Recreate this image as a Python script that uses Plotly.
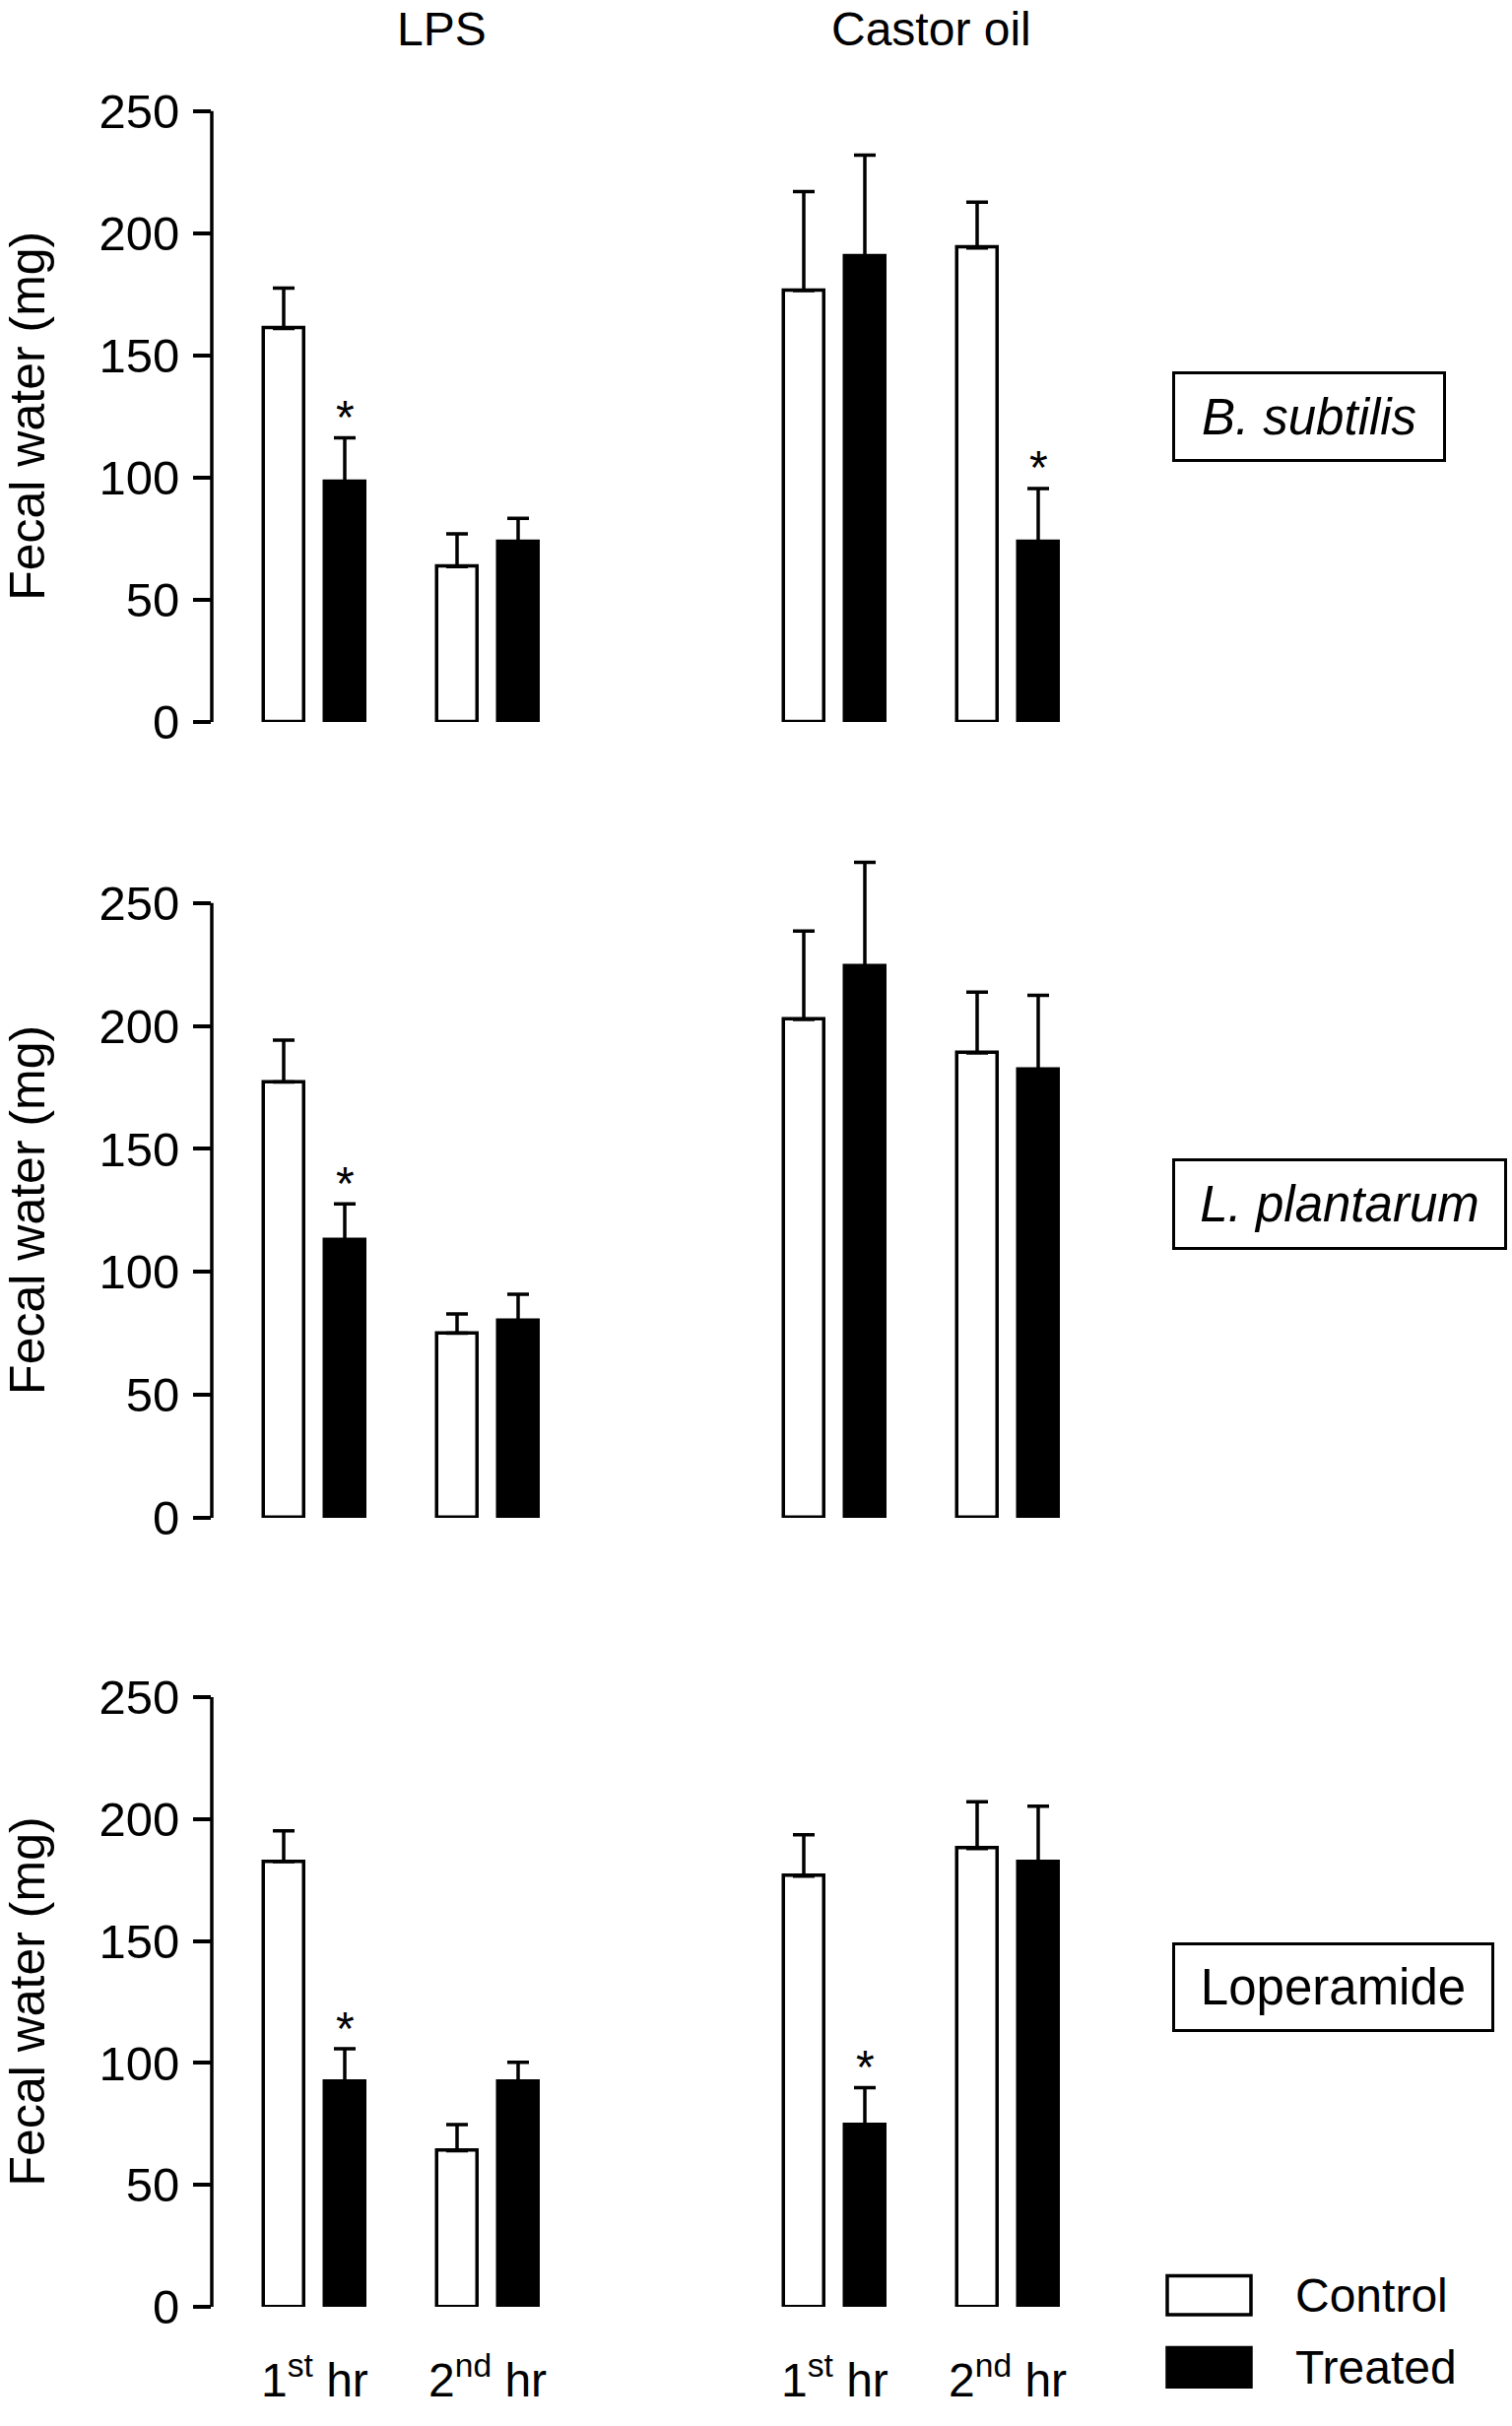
import plotly.graph_objects as go

# bar groups: LPS 1st hr, LPS 2nd hr, Castor oil 1st hr, Castor oil 2nd hr
conditions = ["LPS", "Castor oil"]
hours = ["1<sup>st</sup> hr", "2<sup>nd</sup> hr"]
panels = ["<i>B. subtilis</i>", "<i>L. plantarum</i>", "Loperamide"]

bsub_ctrl = [161.0, 63.5, 176.5, 194.0]
bsub_ctrl_sem = [16.5, 13.5, 40.5, 18.7]
bsub_trt = [98.4, 73.5, 190.4, 73.5]
bsub_trt_sem = [17.9, 9.8, 41.6, 22.0]
bsub_sig = [True, False, False, True]

lpl_ctrl = [177.2, 75.1, 202.7, 189.0]
lpl_ctrl_sem = [17.1, 7.8, 35.9, 24.8]
lpl_trt = [112.8, 80.0, 224.3, 182.2]
lpl_trt_sem = [14.9, 10.9, 42.3, 30.3]
lpl_sig = [True, False, False, False]

lop_ctrl = [182.5, 64.0, 176.6, 187.9]
lop_ctrl_sem = [12.6, 10.7, 16.9, 19.2]
lop_trt = [92.2, 92.2, 74.7, 182.5]
lop_trt_sem = [13.6, 8.1, 15.2, 22.7]
lop_sig = [True, False, True, False]

y_ticks = [0, 50, 100, 150, 200, 250]

# ---- layout geometry (pixels of the 1535x2463 reference) ----
W, H = 1535, 2463
FONT = "Liberation Sans, Arial, sans-serif"
AXIS_X = 215
# (pixel of 0, pixel of 250) per panel
panel_px = [(741, 114), (1558, 927), (2368, 1742)]
Y_TOP = 272
label_boxes = [(1190, 382, 1468, 474), (1190, 1190, 1530, 1283), (1190, 1994, 1517, 2085)]

first_bar = 288
cond_step = 528
hour_step = 176
treat_step = 62
bar_w = 41


def px_x(p):
    return p / W


def px_y(p):
    return 1 - p / H


positions = []
for c in range(len(conditions)):
    for h in range(len(hours)):
        positions.append(first_bar + c * cond_step + h * hour_step)
pos_trt = [p + treat_step for p in positions]

data = [
    (bsub_ctrl, bsub_ctrl_sem, bsub_trt, bsub_trt_sem, bsub_sig),
    (lpl_ctrl, lpl_ctrl_sem, lpl_trt, lpl_trt_sem, lpl_sig),
    (lop_ctrl, lop_ctrl_sem, lop_trt, lop_trt_sem, lop_sig),
]

fig = go.Figure()
annotations = []
shapes = []
layout_axes = {}

for i, (ctrl, ctrl_sem, trt, trt_sem, sig) in enumerate(data):
    n = "" if i == 0 else str(i + 1)
    xa, ya = "x" + n, "y" + n
    err_style = dict(type="data", symmetric=False, color="black", thickness=3.5, width=11)

    fig.add_trace(go.Bar(
        x=positions, y=ctrl, width=bar_w, xaxis=xa, yaxis=ya,
        marker=dict(color="white", line=dict(color="black", width=3.5)),
        error_y=dict(array=ctrl_sem, arrayminus=[0] * len(ctrl), **err_style),
        name="Control", showlegend=False,
    ))
    fig.add_trace(go.Bar(
        x=pos_trt, y=trt, width=bar_w, xaxis=xa, yaxis=ya,
        marker=dict(color="black", line=dict(color="black", width=3.5)),
        error_y=dict(array=trt_sem, arrayminus=[0] * len(trt), **err_style),
        name="Treated", showlegend=False,
    ))

    y0, y250 = panel_px[i]
    scale = (y0 - y250) / 250.0
    top = y0 - Y_TOP * scale
    layout_axes["xaxis" + n] = dict(domain=[px_x(AXIS_X), 1], range=[AXIS_X, W],
                                    visible=False, anchor=ya, fixedrange=True)
    layout_axes["yaxis" + n] = dict(
        domain=[px_y(y0), px_y(top)], range=[0, Y_TOP], anchor=xa,
        tickvals=y_ticks, ticks="outside", ticklen=18, tickwidth=3.5, tickcolor="black",
        ticklabelstandoff=4,
        showline=False, showgrid=False, zeroline=False,
        tickfont=dict(family=FONT, size=49, color="black"),
    )

    # y axis line only from 0 to 250
    shapes.append(dict(type="line", xref=xa + " domain", yref=ya, x0=0, x1=0, y0=0, y1=250,
                       line=dict(color="black", width=3.5)))

    # significance stars
    for p, m, s, flag in zip(pos_trt, trt, trt_sem, sig):
        if flag:
            annotations.append(dict(x=p, y=m + s, xref=xa, yref=ya, text="*", showarrow=False,
                                    yanchor="middle", yshift=21,
                                    font=dict(family=FONT, size=48, color="black")))

    # y axis title
    annotations.append(dict(x=px_x(28), y=px_y((y0 + y250) / 2), xref="paper", yref="paper",
                            text="Fecal water (mg)", textangle=-90, showarrow=False,
                            xanchor="center", yanchor="middle",
                            font=dict(family=FONT, size=50, color="black")))

    # panel label box
    bx0, by0, bx1, by1 = label_boxes[i]
    annotations.append(dict(x=px_x((bx0 + bx1) / 2), y=px_y((by0 + by1) / 2),
                            xref="paper", yref="paper", text=panels[i], showarrow=False,
                            xanchor="center", yanchor="middle",
                            width=bx1 - bx0 - 6, height=by1 - by0 - 6, borderpad=0,
                            bordercolor="black", borderwidth=3, bgcolor="white", align="center",
                            font=dict(family=FONT, size=51, color="black")))

# column titles
for c, cx in zip(conditions, [448, 945]):
    annotations.append(dict(x=px_x(cx), y=px_y(30), xref="paper", yref="paper", text=c,
                            showarrow=False, xanchor="center", yanchor="middle",
                            font=dict(family=FONT, size=48, color="black")))

# hour labels under bottom panel
for k, p in enumerate(positions):
    annotations.append(dict(x=p + treat_step / 2, y=px_y(2440), xref="x3", yref="paper",
                            text=hours[k % 2], showarrow=False, xanchor="center", yanchor="middle",
                            font=dict(family=FONT, size=48, color="black")))

# legend
for lbl, fill, yc in [("Control", "white", 2356), ("Treated", "black", 2430)]:
    shapes.append(dict(type="rect", xref="paper", yref="paper",
                       x0=px_x(1185), x1=px_x(1270), y0=px_y(yc - 20), y1=px_y(yc + 20),
                       fillcolor=fill, line=dict(color="black", width=3.5)))
    annotations.append(dict(x=px_x(1313), y=px_y(yc), xref="paper", yref="paper", text=lbl,
                            showarrow=False, xanchor="left", yanchor="middle",
                            font=dict(family=FONT, size=48, color="black")))

fig.update_layout(
    autosize=True,
    margin=dict(l=0, r=0, t=0, b=0),
    paper_bgcolor="white", plot_bgcolor="rgba(0,0,0,0)",
    showlegend=False, bargap=0,
    annotations=annotations, shapes=shapes,
    **layout_axes,
)

# let the figure fill the browser window exactly
page_css = (
    "document.documentElement.style.overflow='hidden';"
    "document.body.style.margin='0';"
    "document.body.style.overflow='hidden';"
)
fig.write_html("out.html", config={"displayModeBar": False, "responsive": True},
               default_width="100vw", default_height="100vh", post_script=page_css)
